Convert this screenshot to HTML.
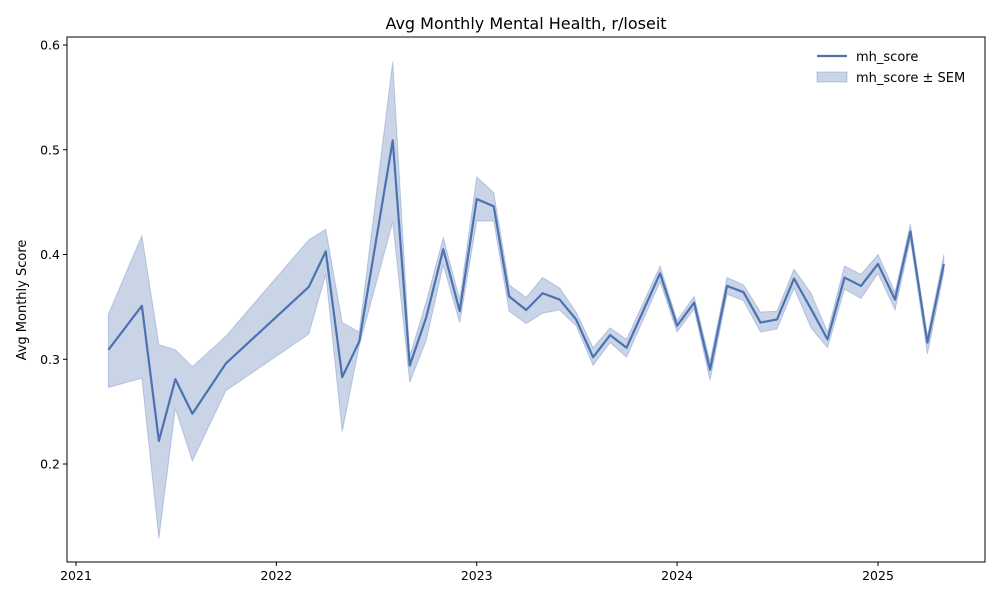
<!DOCTYPE html>
<html><head><meta charset="utf-8"><style>
body{margin:0;background:#fff;font-family:"Liberation Sans","DejaVu Sans",sans-serif}
svg text{font-family:"DejaVu Sans","Liberation Sans",sans-serif}
</style></head><body>
<svg id="chart" width="1000" height="600" viewBox="0 0 1000 600" xmlns="http://www.w3.org/2000/svg"></svg>
<script>
const months=["2021-03","2021-05","2021-06","2021-07","2021-08","2021-10","2022-03","2022-04","2022-05","2022-06","2022-08","2022-09","2022-10","2022-11","2022-12","2023-01","2023-02","2023-03","2023-04","2023-05","2023-06","2023-07","2023-08","2023-09","2023-10","2023-12","2024-01","2024-02","2024-03","2024-04","2024-05","2024-06","2024-07","2024-08","2024-09","2024-10","2024-11","2024-12","2025-01","2025-02","2025-03","2025-04","2025-05"];
const mhScore=[0.309,0.351,0.222,0.281,0.248,0.296,0.369,0.403,0.283,0.317,0.509,0.294,0.340,0.405,0.346,0.453,0.446,0.360,0.347,0.363,0.357,0.338,0.302,0.323,0.311,0.382,0.332,0.354,0.290,0.370,0.364,0.335,0.338,0.377,0.348,0.319,0.378,0.370,0.391,0.357,0.422,0.316,0.391];
const upperSem=[0.343,0.418,0.314,0.309,0.293,0.322,0.414,0.424,0.335,0.326,0.584,0.303,0.355,0.416,0.357,0.474,0.459,0.371,0.359,0.378,0.368,0.345,0.311,0.330,0.319,0.389,0.337,0.360,0.298,0.378,0.371,0.345,0.346,0.386,0.363,0.326,0.389,0.381,0.400,0.364,0.429,0.322,0.400];
const lowerSem=[0.273,0.282,0.129,0.253,0.203,0.270,0.324,0.381,0.231,0.313,0.431,0.278,0.318,0.390,0.335,0.432,0.432,0.346,0.334,0.344,0.347,0.332,0.294,0.316,0.302,0.374,0.326,0.348,0.280,0.362,0.356,0.326,0.329,0.368,0.330,0.311,0.367,0.358,0.382,0.347,0.414,0.305,0.383];
const yTicks=[0.2,0.3,0.4,0.5,0.6];
const xTicks=["2021","2022","2023","2024","2025"];

const NS="http://www.w3.org/2000/svg";
const svg=document.getElementById('chart');
const L=67,R=985,T=37,B=562;
const d0=Date.UTC(2021,0,1),d1=Date.UTC(2025,0,1);
function xs(str){const p=str.split('-');const t=Date.UTC(+p[0],(+p[1]||1)-1,1);return 76+(t-d0)/(d1-d0)*802;}
function ys(v){return 45+(0.6-v)*1047.5;}
function mk(tag,attrs,parent){const e=document.createElementNS(NS,tag);for(const k in attrs)e.setAttribute(k,attrs[k]);(parent||svg).appendChild(e);return e;}

const title=mk('text',{x:526,y:29,'text-anchor':'middle','font-size':16,fill:'#000'});


title.textContent='Avg Monthly Mental Health, r/loseit';

// band
let pts=months.map((m,i)=>xs(m)+','+ys(upperSem[i]));
for(let i=months.length-1;i>=0;i--)pts.push(xs(months[i])+','+ys(lowerSem[i]));
const band=mk('polygon',{points:pts.join(' '),fill:'#4c72b0','fill-opacity':0.3,stroke:'#4c72b0','stroke-opacity':0.3,'stroke-width':1});



const line=mk('polyline',{points:months.map((m,i)=>xs(m)+','+ys(mhScore[i])).join(' '),fill:'none',stroke:'#4c72b0','stroke-width':2.2,'stroke-linejoin':'round'});



const frame=mk('rect',{x:L,y:T,width:R-L,height:B-T,fill:'none',stroke:'#000','stroke-width':1});



yTicks.forEach(v=>{
  const y=ys(v);
  const tk=mk('line',{x1:L-4,x2:L,y1:y,y2:y,stroke:'#000'});
  
  
  const t=mk('text',{x:L-7,y:y+4.5,'text-anchor':'end','font-size':12.5});
  
  
  t.textContent=v.toFixed(1);
});
xTicks.forEach(s=>{
  const x=xs(s);
  const tk=mk('line',{x1:x,x2:x,y1:B,y2:B+4,stroke:'#000'});
  
  
  const t=mk('text',{x:x,y:B+18,'text-anchor':'middle','font-size':12.5});
  
  
  t.textContent=s;
});
const yt=mk('text',{x:0,y:0,transform:'translate(26,300) rotate(-90)','text-anchor':'middle','font-size':13});


yt.textContent='Avg Monthly Score';

const lg=mk('g',{});


const l1=mk('line',{x1:817,x2:847,y1:56,y2:56,stroke:'#4c72b0','stroke-width':2.2},lg);


const t1=mk('text',{x:856,y:61,'font-size':13},lg);


t1.textContent='mh_score';
const r2=mk('rect',{x:817,y:72,width:30,height:10,fill:'#4c72b0','fill-opacity':0.3,stroke:'#4c72b0','stroke-opacity':0.3},lg);


const t2=mk('text',{x:856,y:82,'font-size':13},lg);


t2.textContent='mh_score ± SEM';
</script>
</body></html>
